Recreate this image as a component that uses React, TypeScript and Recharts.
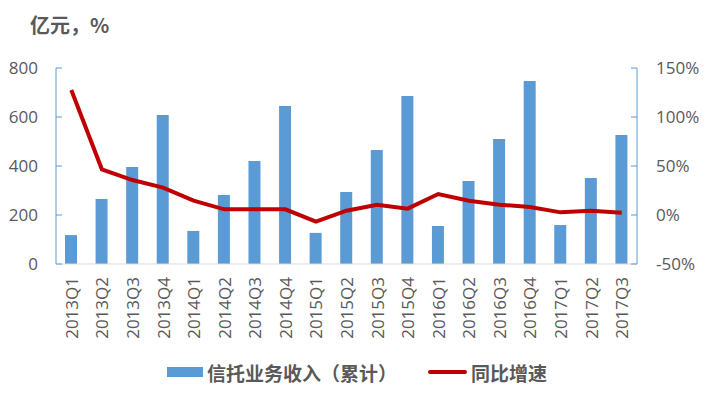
import React from "react";
import { ComposedChart, Bar, Line, XAxis, YAxis, Legend } from "recharts";

const categories = [
  "2013Q1", "2013Q2", "2013Q3", "2013Q4",
  "2014Q1", "2014Q2", "2014Q3", "2014Q4",
  "2015Q1", "2015Q2", "2015Q3", "2015Q4",
  "2016Q1", "2016Q2", "2016Q3", "2016Q4",
  "2017Q1", "2017Q2", "2017Q3",
];
const income = [118, 265, 396, 608, 135, 282, 420, 645, 127, 294, 465, 686, 155, 339, 510, 747, 159, 351, 527];
const growth = [127.5, 46.6, 35.7, 28, 14.6, 5.8, 5.8, 5.8, -6.8, 4.4, 10.5, 6.5, 21.4, 14.6, 10.5, 8.2, 2.7, 4.4, 2.4];
const leftTicks = [0, 200, 400, 600, 800];
const rightTicks = [-50, 0, 50, 100, 150];

const data = categories.map((c, i) => ({ name: c, income: income[i], growth: growth[i] }));

const GREY = "#595959";
const BLUE = "#5B9BD5";
const RED = "#C00000";
const NUM_FONT = "'Open Sans', sans-serif";
const CJK_FONT = "'Noto Sans CJK SC', sans-serif";

const XTick = (props: any) => {
  const { x, y, payload } = props;
  return (
    <text
      x={x}
      y={y}
      transform={`rotate(-90, ${x}, ${y})`}
      textAnchor="end"
      dominantBaseline="central"
      fill={GREY}
      fontSize={17}
      fontFamily={NUM_FONT}
    >
      {payload.value}
    </text>
  );
};

const LegendContent = () => (
  <div
    style={{
      height: 48,
      display: "flex",
      alignItems: "center",
      fontFamily: CJK_FONT,
      fontSize: 19,
      fontWeight: "bold",
      color: GREY,
    }}
  >
    <div style={{ marginLeft: 167, width: 36, height: 10, background: BLUE }} />
    <span style={{ marginLeft: 4 }}>信托业务收入（累计）</span>
    <div style={{ marginLeft: 31, width: 39, height: 4, background: RED, borderRadius: 2 }} />
    <span style={{ marginLeft: 4 }}>同比增速</span>
  </div>
);

export default function App() {
  return (
    <div style={{ position: "absolute", left: 0, top: 0, width: 706, height: 396, background: "#fff" }}>
      <div
        style={{
          position: "absolute",
          left: 30,
          top: 10,
          fontFamily: CJK_FONT,
          fontSize: 20,
          fontWeight: "bold",
          color: GREY,
          lineHeight: "30px",
        }}
      >
        亿元，%
      </div>
      <ComposedChart
        width={706}
        height={396}
        data={data}
        margin={{ top: 68, right: 0, bottom: 0, left: 0 }}
      >
        <XAxis
          dataKey="name"
          interval={0}
          tick={<XTick />}
          tickLine={false}
          tickSize={0}
          tickMargin={13}
          height={84}
          axisLine={{ stroke: "#D9D9D9", strokeWidth: 1 }}
        />
        <YAxis
          yAxisId="left"
          orientation="left"
          width={56}
          domain={[0, 800]}
          ticks={leftTicks}
          interval={0}
          tickSize={-6}
          tickMargin={24}
          axisLine={{ stroke: BLUE }}
          tickLine={{ stroke: BLUE }}
          tick={{ fill: GREY, fontSize: 17, fontFamily: NUM_FONT }}
        />
        <YAxis
          yAxisId="right"
          orientation="right"
          width={69}
          domain={[-50, 150]}
          ticks={rightTicks}
          interval={0}
          tickSize={-6}
          tickMargin={25}
          axisLine={{ stroke: BLUE }}
          tickLine={{ stroke: BLUE }}
          tickFormatter={(v: number) => `${v}%`}
          tick={{ fill: GREY, fontSize: 17, fontFamily: NUM_FONT }}
        />
        <Legend verticalAlign="bottom" content={<LegendContent />} wrapperStyle={{ left: 0, width: 706 }} />
        <Bar
          yAxisId="left"
          dataKey="income"
          name="信托业务收入（累计）"
          fill={BLUE}
          barSize={12}
          isAnimationActive={false}
        />
        <Line
          yAxisId="right"
          dataKey="growth"
          name="同比增速"
          stroke={RED}
          strokeWidth={4}
          dot={false}
          activeDot={false}
          type="linear"
          isAnimationActive={false}
        />
      </ComposedChart>
    </div>
  );
}
